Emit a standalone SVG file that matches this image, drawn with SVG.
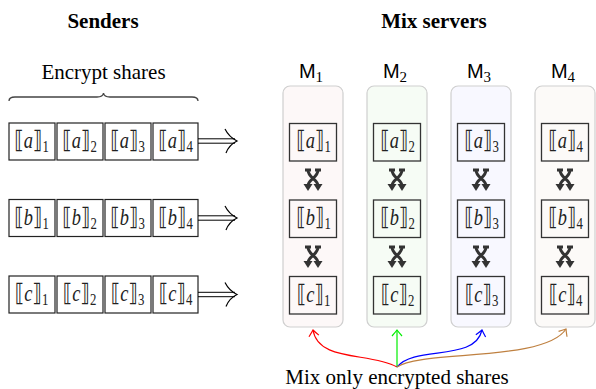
<svg xmlns="http://www.w3.org/2000/svg" xmlns:xlink="http://www.w3.org/1999/xlink" width="596" height="389" viewBox="0 0 596 389">
<style>
.title{font-family:"Liberation Serif",serif;font-weight:bold;font-size:21px;text-anchor:middle;fill:#000}
.lbl{font-family:"Liberation Serif",serif;font-size:21px;text-anchor:middle;fill:#000}
.sh{font-family:"DejaVu Sans","DejaVu Serif",serif;font-size:24px;text-anchor:middle;fill:#222}
.sh .v{font-family:"Liberation Serif",serif;font-style:italic;font-size:23px}
.sub{font-family:"Liberation Serif",serif;font-size:16px}
.mname{font-family:"Liberation Sans",sans-serif;font-size:20px;text-anchor:middle;fill:#000}
.mname .sub{font-size:15px}
.sbox{fill:#fff;stroke:#222;stroke-width:1.2}
.ibox{fill:none;stroke:#333;stroke-width:1.3}
.col{stroke:#cfcfcf;stroke-width:1.2}
.swap{fill:none;stroke:#333;stroke-width:3}
.swaphead{fill:#333}
.dbl{stroke:#000;stroke-width:1}
.brace{fill:none;stroke:#444;stroke-width:1.3}
</style>
<defs>
<marker id="mr" markerUnits="userSpaceOnUse" markerWidth="14" markerHeight="14" refX="0" refY="0" viewBox="-8 -7 10 14" orient="auto"><path d="M-6,-5 Q-2,-1.5 0,0 Q-2,1.5 -6,5" fill="none" stroke="#ff0000" stroke-width="1.2"/></marker>
<marker id="mg" markerUnits="userSpaceOnUse" markerWidth="14" markerHeight="14" refX="0" refY="0" viewBox="-8 -7 10 14" orient="auto"><path d="M-6,-5 Q-2,-1.5 0,0 Q-2,1.5 -6,5" fill="none" stroke="#00ee00" stroke-width="1.2"/></marker>
<marker id="mb" markerUnits="userSpaceOnUse" markerWidth="14" markerHeight="14" refX="0" refY="0" viewBox="-8 -7 10 14" orient="auto"><path d="M-6,-5 Q-2,-1.5 0,0 Q-2,1.5 -6,5" fill="none" stroke="#0000ff" stroke-width="1.2"/></marker>
<marker id="mo" markerUnits="userSpaceOnUse" markerWidth="14" markerHeight="14" refX="0" refY="0" viewBox="-8 -7 10 14" orient="auto"><path d="M-6,-5 Q-2,-1.5 0,0 Q-2,1.5 -6,5" fill="none" stroke="#bf8040" stroke-width="1.2"/></marker>
<g id="swapicon">
<path class="swap" d="M-5,-10 C-5,-2 5,-1 5,6"/>
<path class="swap" d="M5,-10 C5,-2 -5,-1 -5,6"/>
<path class="swap" d="M-8,-10 L-2,-10 M2,-10 L8,-10" stroke-width="2"/>
<polygon class="swaphead" points="0.5,4 9.5,4 5,11"/>
<polygon class="swaphead" points="-9.5,4 -0.5,4 -5,11"/>
</g>
<g id="dblarrow">
<line class="dbl" x1="0" y1="-2.2" x2="37" y2="-2.2"/>
<line class="dbl" x1="0" y1="2.2" x2="37" y2="2.2"/>
<path d="M27,-12 Q31,-4 39,0 Q31,4 28,12" fill="none" stroke="#000" stroke-width="1.2"/>
</g>
</defs>

<rect width="596" height="389" fill="#fff"/>

<g id="headers">
<text class="title" x="103" y="28">Senders</text>
<text class="title" x="434" y="28">Mix servers</text>
<text class="lbl" x="103.5" y="79">Encrypt shares</text>
<path class="brace" d="M9,101 Q9,97 15,97 L97,97 Q103,97 103.5,93 Q104,97 110,97 L192,97 Q198,97 198,101"/>
</g>

<g id="sender-a">
<rect class="sbox" x="9" y="123" width="46" height="37"/>
<rect class="sbox" x="57" y="123" width="46" height="37"/>
<rect class="sbox" x="105" y="123" width="46" height="37"/>
<rect class="sbox" x="153" y="123" width="45" height="37"/>
<text class="sh" transform="translate(31.5,148) scale(0.8,1)">⟦<tspan class="v">a</tspan>⟧<tspan class="sub" dy="4">1</tspan></text>
<text class="sh" transform="translate(79.5,148) scale(0.8,1)">⟦<tspan class="v">a</tspan>⟧<tspan class="sub" dy="4">2</tspan></text>
<text class="sh" transform="translate(127.5,148) scale(0.8,1)">⟦<tspan class="v">a</tspan>⟧<tspan class="sub" dy="4">3</tspan></text>
<text class="sh" transform="translate(175.5,148) scale(0.8,1)">⟦<tspan class="v">a</tspan>⟧<tspan class="sub" dy="4">4</tspan></text>
<use xlink:href="#dblarrow" x="198" y="141"/>
</g>
<g id="sender-b">
<rect class="sbox" x="9" y="199.5" width="46" height="37"/>
<rect class="sbox" x="57" y="199.5" width="46" height="37"/>
<rect class="sbox" x="105" y="199.5" width="46" height="37"/>
<rect class="sbox" x="153" y="199.5" width="45" height="37"/>
<text class="sh" transform="translate(31.5,224.5) scale(0.8,1)">⟦<tspan class="v">b</tspan>⟧<tspan class="sub" dy="4">1</tspan></text>
<text class="sh" transform="translate(79.5,224.5) scale(0.8,1)">⟦<tspan class="v">b</tspan>⟧<tspan class="sub" dy="4">2</tspan></text>
<text class="sh" transform="translate(127.5,224.5) scale(0.8,1)">⟦<tspan class="v">b</tspan>⟧<tspan class="sub" dy="4">3</tspan></text>
<text class="sh" transform="translate(175.5,224.5) scale(0.8,1)">⟦<tspan class="v">b</tspan>⟧<tspan class="sub" dy="4">4</tspan></text>
<use xlink:href="#dblarrow" x="198" y="218"/>
</g>
<g id="sender-c">
<rect class="sbox" x="9" y="276" width="46" height="37"/>
<rect class="sbox" x="57" y="276" width="46" height="37"/>
<rect class="sbox" x="105" y="276" width="46" height="37"/>
<rect class="sbox" x="153" y="276" width="45" height="37"/>
<text class="sh" transform="translate(31.5,301) scale(0.8,1)">⟦<tspan class="v">c</tspan>⟧<tspan class="sub" dy="4">1</tspan></text>
<text class="sh" transform="translate(79.5,301) scale(0.8,1)">⟦<tspan class="v">c</tspan>⟧<tspan class="sub" dy="4">2</tspan></text>
<text class="sh" transform="translate(127.5,301) scale(0.8,1)">⟦<tspan class="v">c</tspan>⟧<tspan class="sub" dy="4">3</tspan></text>
<text class="sh" transform="translate(175.5,301) scale(0.8,1)">⟦<tspan class="v">c</tspan>⟧<tspan class="sub" dy="4">4</tspan></text>
<use xlink:href="#dblarrow" x="198" y="294.5"/>
</g>

<g id="M1">
<text class="mname" x="311" y="78">M<tspan class="sub" dy="4">1</tspan></text>
<rect class="col" x="283" y="86" width="60" height="241" rx="7" fill="#fdf8f8"/>
<rect class="ibox" x="289.5" y="123.5" width="47" height="37.5"/>
<rect class="ibox" x="289.5" y="200" width="47" height="37.5"/>
<rect class="ibox" x="289.5" y="276.5" width="47" height="37.5"/>
<text class="sh" transform="translate(313.5,148) scale(0.8,1)">⟦<tspan class="v">a</tspan>⟧<tspan class="sub" dy="4">1</tspan></text>
<text class="sh" transform="translate(313.5,225) scale(0.8,1)">⟦<tspan class="v">b</tspan>⟧<tspan class="sub" dy="4">1</tspan></text>
<text class="sh" transform="translate(313.5,301.5) scale(0.8,1)">⟦<tspan class="v">c</tspan>⟧<tspan class="sub" dy="4">1</tspan></text>
<use xlink:href="#swapicon" x="313" y="180"/>
<use xlink:href="#swapicon" x="313" y="257"/>
</g>
<g id="M2">
<text class="mname" x="395" y="78">M<tspan class="sub" dy="4">2</tspan></text>
<rect class="col" x="367" y="86" width="60" height="241" rx="7" fill="#f6fcf5"/>
<rect class="ibox" x="373.5" y="123.5" width="47" height="37.5"/>
<rect class="ibox" x="373.5" y="200" width="47" height="37.5"/>
<rect class="ibox" x="373.5" y="276.5" width="47" height="37.5"/>
<text class="sh" transform="translate(397.5,148) scale(0.8,1)">⟦<tspan class="v">a</tspan>⟧<tspan class="sub" dy="4">2</tspan></text>
<text class="sh" transform="translate(397.5,225) scale(0.8,1)">⟦<tspan class="v">b</tspan>⟧<tspan class="sub" dy="4">2</tspan></text>
<text class="sh" transform="translate(397.5,301.5) scale(0.8,1)">⟦<tspan class="v">c</tspan>⟧<tspan class="sub" dy="4">2</tspan></text>
<use xlink:href="#swapicon" x="397" y="180"/>
<use xlink:href="#swapicon" x="397" y="257"/>
</g>
<g id="M3">
<text class="mname" x="479" y="78">M<tspan class="sub" dy="4">3</tspan></text>
<rect class="col" x="451" y="86" width="60" height="241" rx="7" fill="#f8f8ff"/>
<rect class="ibox" x="457.5" y="123.5" width="47" height="37.5"/>
<rect class="ibox" x="457.5" y="200" width="47" height="37.5"/>
<rect class="ibox" x="457.5" y="276.5" width="47" height="37.5"/>
<text class="sh" transform="translate(481.5,148) scale(0.8,1)">⟦<tspan class="v">a</tspan>⟧<tspan class="sub" dy="4">3</tspan></text>
<text class="sh" transform="translate(481.5,225) scale(0.8,1)">⟦<tspan class="v">b</tspan>⟧<tspan class="sub" dy="4">3</tspan></text>
<text class="sh" transform="translate(481.5,301.5) scale(0.8,1)">⟦<tspan class="v">c</tspan>⟧<tspan class="sub" dy="4">3</tspan></text>
<use xlink:href="#swapicon" x="481" y="180"/>
<use xlink:href="#swapicon" x="481" y="257"/>
</g>
<g id="M4">
<text class="mname" x="563" y="78">M<tspan class="sub" dy="4">4</tspan></text>
<rect class="col" x="535" y="86" width="60" height="241" rx="7" fill="#fcfaf8"/>
<rect class="ibox" x="541.5" y="123.5" width="47" height="37.5"/>
<rect class="ibox" x="541.5" y="200" width="47" height="37.5"/>
<rect class="ibox" x="541.5" y="276.5" width="47" height="37.5"/>
<text class="sh" transform="translate(565.5,148) scale(0.8,1)">⟦<tspan class="v">a</tspan>⟧<tspan class="sub" dy="4">4</tspan></text>
<text class="sh" transform="translate(565.5,225) scale(0.8,1)">⟦<tspan class="v">b</tspan>⟧<tspan class="sub" dy="4">4</tspan></text>
<text class="sh" transform="translate(565.5,301.5) scale(0.8,1)">⟦<tspan class="v">c</tspan>⟧<tspan class="sub" dy="4">4</tspan></text>
<use xlink:href="#swapicon" x="565" y="180"/>
<use xlink:href="#swapicon" x="565" y="257"/>
</g>

<g id="connectors" fill="none" stroke-width="1.2">
<path d="M397,367 C370,352 318,362 313,330" stroke="#ff0000" marker-end="url(#mr)"/>
<path d="M397,367 L397,330" stroke="#00ee00" marker-end="url(#mg)"/>
<path d="M397,367 C415,345 475,362 482,330" stroke="#0000ff" marker-end="url(#mb)"/>
<path d="M397,367 C420,350 545,362 566,329" stroke="#bf8040" marker-end="url(#mo)"/>
</g>

<text class="lbl" x="397" y="384">Mix only encrypted shares</text>
</svg>
